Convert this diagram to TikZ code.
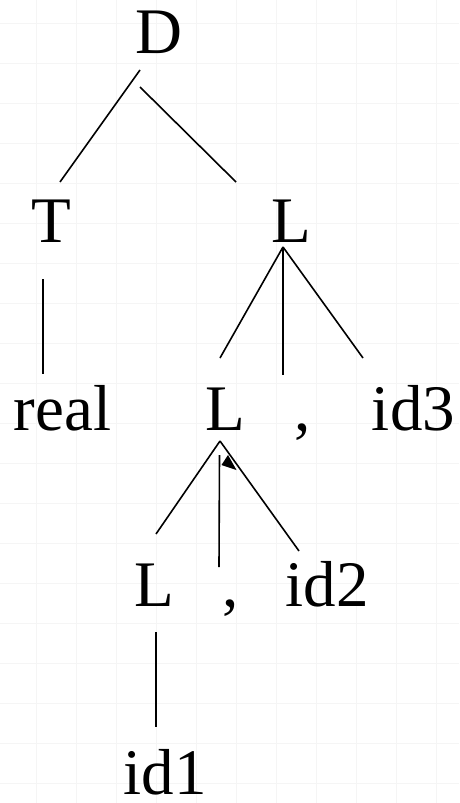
\documentclass[tikz,border=0pt]{standalone}
\usepackage{fontspec}
\setmainfont{Liberation Serif}
\usetikzlibrary{calc}
\begin{document}
\begin{tikzpicture}[x=1pt,y=-1pt,
  sym/.style={inner sep=0pt,anchor=base,text depth=0pt,font=\fontsize{65}{65}\selectfont},
  edge/.style={line width=1.6pt,black},
  gridline/.style={line width=1pt,black!4}]
\useasboundingbox (0,0) rectangle (459,803);
\fill[white] (0,0) rectangle (459,803);
% faint grid
\foreach \gx in {36,76,...,436} \draw[gridline] (\gx,0) -- (\gx,803);
\foreach \gy in {23,63,...,783} \draw[gridline] (0,\gy) -- (459,\gy);
% nodes
\node[sym] (D) at (158.5,53) {D};
\node[sym] (T) at (51.5,242) {T};
\node[sym] (L1) at (291.5,242) {L};
\node[sym] (real) at (62.5,430) {real};
\node[sym] (L2) at (225.5,430) {L};
\node[sym] (c1) at (302.5,430) {,};
\node[sym] (id3) at (413.5,430) {id3};
\node[sym] (L3) at (154,606) {L};
\node[sym] (c2) at (231,606) {,};
\node[sym] (id2) at (327,606) {id2};
\node[sym] (id1) at (165,794) {id1};
% connectors
\draw[edge] ($(D.base)+(-18.5,17)$) -- ($(T.base)+(8.5,-60)$);
\draw[edge] ($(D.base)+(-18.5,34)$) -- ($(L1.base)+(-55.5,-60)$);
\draw[edge] ($(T.base)+(-8.5,37)$) -- ($(real.base)+(-19.5,-56)$);
\draw[edge] ($(L1.base)+(-8.5,5)$) -- ($(L2.base)+(-5.5,-72)$);
\draw[edge] ($(L1.base)+(-8.5,5)$) -- ($(c1.base)+(-19.5,-55)$);
\draw[edge] ($(L1.base)+(-8.5,5)$) -- ($(id3.base)+(-50.5,-72)$);
\draw[edge] ($(L2.base)+(-5.5,11)$) -- ($(L3.base)+(2,-72)$);
\draw[edge] ($(L2.base)+(-6,25)$) -- ($(c2.base)+(-12,-39)$);
\draw[edge] ($(L2.base)+(-5.5,11)$) -- ($(id2.base)+(-28,-55)$);
\draw[edge] ($(L3.base)+(2,26)$) -- ($(id1.base)+(-9,-67)$);
% small arrowhead
\fill[black] ($(L2.base)+(2.5,25)$) -- ($(L2.base)+(-4,35)$) -- ($(L2.base)+(11,40)$) -- cycle;
\end{tikzpicture}
\end{document}
